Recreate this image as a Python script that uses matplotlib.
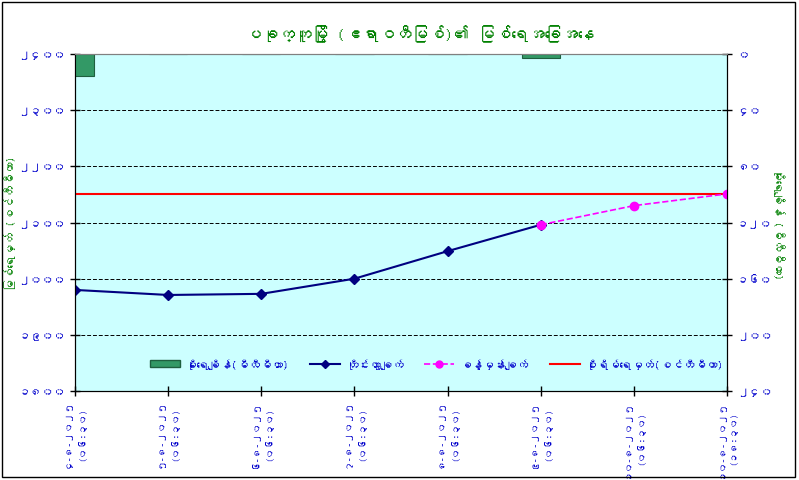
import numpy as np
import matplotlib
matplotlib.use('Agg')
import matplotlib.pyplot as plt
from matplotlib import font_manager
from matplotlib.ft2font import FT2Font
from matplotlib.ticker import FuncFormatter, MultipleLocator
from matplotlib.patches import Rectangle, Patch
from matplotlib.lines import Line2D

# data
dates = ['၄-၈-၂၀၂၅', '၅-၈-၂၀၂၅', '၆-၈-၂၀၂၅', '၇-၈-၂၀၂၅',
         '၈-၈-၂၀၂၅', '၉-၈-၂၀၂၅', '၁၀-၈-၂၀၂၅', '၁၀-၈-၂၀၂၅']
times = ['(၀၆:၃၀)', '(၀၆:၃၀)', '(၀၆:၃၀)', '(၀၆:၃၀)',
         '(၀၆:၃၀)', '(၀၆:၃၀)', '(၀၆:၃၀)', '(၁၈:၃၀)']
observed = [1980, 1971, 1973, 2000, 2049, 2096]
forecast_idx = [5, 6, 7]
forecast = [2096, 2130, 2151]
rain = [16, 0, 0, 0, 0, 3, np.nan, np.nan]
danger = 2150

title = 'ပခုက္ကူမြို့ (ဧရာဝတီမြစ်)၏ မြစ်ရေအခြေအနေ'
left_label = 'မြစ်ရေမှတ် (စင်တီမီတာ)'
right_label = 'မိုးရေချိန် (မီလီမီတာ)'
lg_rain = 'မိုးရေချိန်(မီလီမီတာ)'
lg_obs = 'တိုင်းထွာချက်'
lg_fc = 'ခန့်မှန်းချက်'
lg_danger = 'စိုးရိမ်ရေမှတ်(စင်တီမီတာ)'


def find_myanmar_font():
    # look for any installed font that has Myanmar glyphs
    for f in font_manager.fontManager.ttflist:
        try:
            if 0x1000 in FT2Font(f.fname).get_charmap():
                return f.name
        except Exception:
            pass
    return None


mm = find_myanmar_font()
fams = ([mm] if mm else []) + ['DejaVu Sans']
plt.rcParams['font.family'] = fams

mm_digits = str.maketrans('0123456789', '၀၁၂၃၄၅၆၇၈၉')


def mm_fmt(v, pos):
    return str(int(round(v))).translate(mm_digits)


green = '#008000'
blue = '#0000CC'

fig = plt.figure(figsize=(7.99, 4.81), dpi=100)
ax = fig.add_axes([0.0939, 0.185, 0.816, 0.7006])
ax.set_facecolor('#CCFFFF')
ax2 = ax.twinx()

x = np.arange(len(dates))

# rainfall bars hanging from the top (inverted right axis)
ax2.bar(x, rain, width=0.41, color='#339966', edgecolor='#1f5f3f', linewidth=0.8,
        zorder=2)
ax2.set_ylim(240, 0)
ax2.yaxis.set_major_locator(MultipleLocator(40))
ax2.yaxis.set_major_formatter(FuncFormatter(mm_fmt))

ax.axhline(danger, color='#FF0000', lw=1.5, zorder=3)
ax.plot(x[:len(observed)], observed, color='#000080', marker='D', ms=5, lw=1.5, zorder=4)
ax.plot(forecast_idx, forecast, color='#FF00FF', marker='o', ms=6, lw=1.2,
        ls='--', zorder=4)

ax.set_xlim(0, len(dates) - 1)
ax.set_ylim(1800, 2400)
ax.yaxis.set_major_locator(MultipleLocator(100))
ax.yaxis.set_major_formatter(FuncFormatter(mm_fmt))
ax.grid(axis='y', color='black', ls='--', lw=0.7, dashes=(4, 2))
ax.set_axisbelow(True)

ax.set_xticks(x)
ax.set_xticklabels([d + '\n' + t for d, t in zip(dates, times)], rotation=90,
                   fontsize=7, color=blue, fontweight='bold', linespacing=1.7)
for lab in ax.get_yticklabels() + ax2.get_yticklabels():
    lab.set_color(blue)
    lab.set_fontweight('bold')
    lab.set_fontsize(8.5)

ax.tick_params(axis='both', direction='inout', length=7, width=1)
ax.tick_params(axis='x', pad=2)
ax2.tick_params(axis='y', direction='inout', length=7, width=1)
ax.spines['top'].set_color('#808080')
ax2.spines['top'].set_color('#808080')

ax.set_ylabel(left_label, color=green, fontsize=8.5, fontweight='bold')
ax.yaxis.set_label_coords(-0.09, 0.5)
ax2.set_ylabel(right_label, color=green, fontsize=8.5, fontweight='bold', rotation=270)
ax2.yaxis.set_label_coords(1.089, 0.5)

fig.text(0.525, 0.93, title, color=green, fontsize=12, fontweight='bold',
         ha='center', va='center')

handles = [Patch(facecolor='#339966', edgecolor='#1f5f3f'),
           Line2D([], [], color='#000080', marker='D', ms=4, lw=1.5),
           Line2D([], [], color='#FF00FF', marker='o', ms=5, lw=1.2, ls='--'),
           Line2D([], [], color='#FF0000', lw=1.5)]
leg = ax2.legend(handles, [lg_rain, lg_obs, lg_fc, lg_danger], loc='lower center',
                 bbox_to_anchor=(0.555, 0.035), ncol=4, frameon=False, fontsize=8.3,
                 handlelength=2.6, columnspacing=1.8, handletextpad=0.5,
                 handleheight=0.6)
for t in leg.get_texts():
    t.set_color(blue)
    t.set_fontweight('bold')

fig.patches.append(Rectangle((0.003, 0.006), 0.992, 0.988, transform=fig.transFigure,
                             fill=False, edgecolor='black', lw=1))

fig.savefig('out.png', dpi=100)
